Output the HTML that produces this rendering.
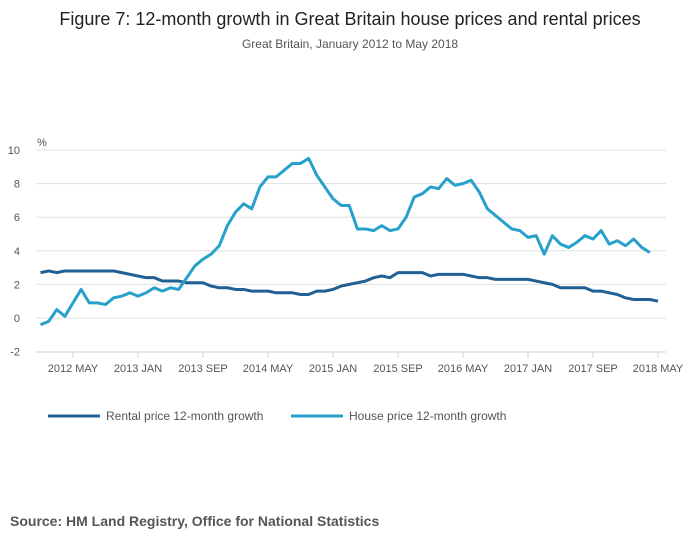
<!DOCTYPE html>
<html><head><meta charset="utf-8"><style>
body{margin:0;background:#fff;font-family:"Liberation Sans",sans-serif;}
svg text{font-family:"Liberation Sans",sans-serif;}
</style></head><body>
<svg id="chart" width="700" height="549" xmlns="http://www.w3.org/2000/svg">
<text x="350" y="25" text-anchor="middle" font-size="18" fill="#222">Figure 7: 12-month growth in Great Britain house prices and rental prices</text>
<text x="350" y="48" text-anchor="middle" font-size="12" fill="#555">Great Britain, January 2012 to May 2018</text>
<text x="37" y="146" font-size="11" fill="#555">%</text>
<g id="grid"></g><g id="xaxis"></g><g id="series"></g>
<g>
<line x1="48" y1="416" x2="100" y2="416" stroke="#206095" stroke-width="3"/>
<text x="106" y="420" font-size="12" fill="#555">Rental price 12-month growth</text>
<line x1="291" y1="416" x2="343" y2="416" stroke="#27a0cc" stroke-width="3"/>
<text x="349" y="420" font-size="12" fill="#555">House price 12-month growth</text>
</g>
<text x="10" y="526" font-size="14" font-weight="bold" fill="#555">Source: HM Land Registry, Office for National Statistics</text>
</svg>
<script>
const yTicks=[-2,0,2,4,6,8,10];
const xTickLabels=["2012 MAY","2013 JAN","2013 SEP","2014 MAY","2015 JAN","2015 SEP","2016 MAY","2017 JAN","2017 SEP","2018 MAY"];
const xTickIndex=[4,12,20,28,36,44,52,60,68,76];
const houseValues=[-0.4,-0.2,0.5,0.1,0.9,1.7,0.9,0.9,0.8,1.2,1.3,1.5,
1.3,1.5,1.8,1.6,1.8,1.7,2.4,3.1,3.5,3.8,4.3,5.5,
6.3,6.8,6.5,7.8,8.4,8.4,8.8,9.2,9.2,9.5,8.5,7.8,
7.1,6.7,6.7,5.3,5.3,5.2,5.5,5.2,5.3,6.0,7.2,7.4,
7.8,7.7,8.3,7.9,8.0,8.2,7.5,6.5,6.1,5.7,5.3,5.2,
4.8,4.9,3.8,4.9,4.4,4.2,4.5,4.9,4.7,5.2,4.4,4.6,
4.3,4.7,4.2,3.9];
const rentalValues=[2.7,2.8,2.7,2.8,2.8,2.8,2.8,2.8,2.8,2.8,2.7,2.6,
2.5,2.4,2.4,2.2,2.2,2.2,2.1,2.1,2.1,1.9,1.8,1.8,
1.7,1.7,1.6,1.6,1.6,1.5,1.5,1.5,1.4,1.4,1.6,1.6,
1.7,1.9,2.0,2.1,2.2,2.4,2.5,2.4,2.7,2.7,2.7,2.7,
2.5,2.6,2.6,2.6,2.6,2.5,2.4,2.4,2.3,2.3,2.3,2.3,
2.3,2.2,2.1,2.0,1.8,1.8,1.8,1.8,1.6,1.6,1.5,1.4,
1.2,1.1,1.1,1.1,1.0];
const NS="http://www.w3.org/2000/svg";
const x=i=>40.5+i*8.125;
const y=v=>318-v*16.8;
function mk(tag,attrs,parent){const e=document.createElementNS(NS,tag);for(const k in attrs)e.setAttribute(k,attrs[k]);parent.appendChild(e);return e;}
const grid=document.getElementById('grid');
yTicks.forEach(t=>{
  if(t>-2){const l=mk('line',{x1:36,x2:666,y1:y(t),y2:y(t),stroke:'#e0e0e0','stroke-width':1},grid);
  
  }
  const tx=mk('text',{x:20,y:y(t)+4,'text-anchor':'end','font-size':11,fill:'#555'},grid);
  tx.textContent=t;
  
  
});
const xa=document.getElementById('xaxis');
const ax=mk('line',{x1:36,x2:666,y1:352,y2:352,stroke:'#c6d4e6','stroke-width':1},xa);


xTickLabels.forEach((lab,k)=>{
  const xi=x(xTickIndex[k]);
  const tk=mk('line',{x1:xi,x2:xi,y1:352,y2:358,stroke:'#c6d4e6'},xa);
  
  
  const t=mk('text',{x:xi,y:372,'text-anchor':'middle','font-size':11,fill:'#555'},xa);
  t.textContent=lab;
  
  
});
const sg=document.getElementById('series');
function line(vals,color,name){
  const p=mk('polyline',{points:vals.map((v,i)=>x(i)+','+y(v)).join(' '),fill:'none',stroke:color,'stroke-width':3,'stroke-linejoin':'round'},sg);
  
  
}
line(rentalValues,'#206095','rental-price-line');
line(houseValues,'#27a0cc','house-price-line');
</script>
</body></html>
